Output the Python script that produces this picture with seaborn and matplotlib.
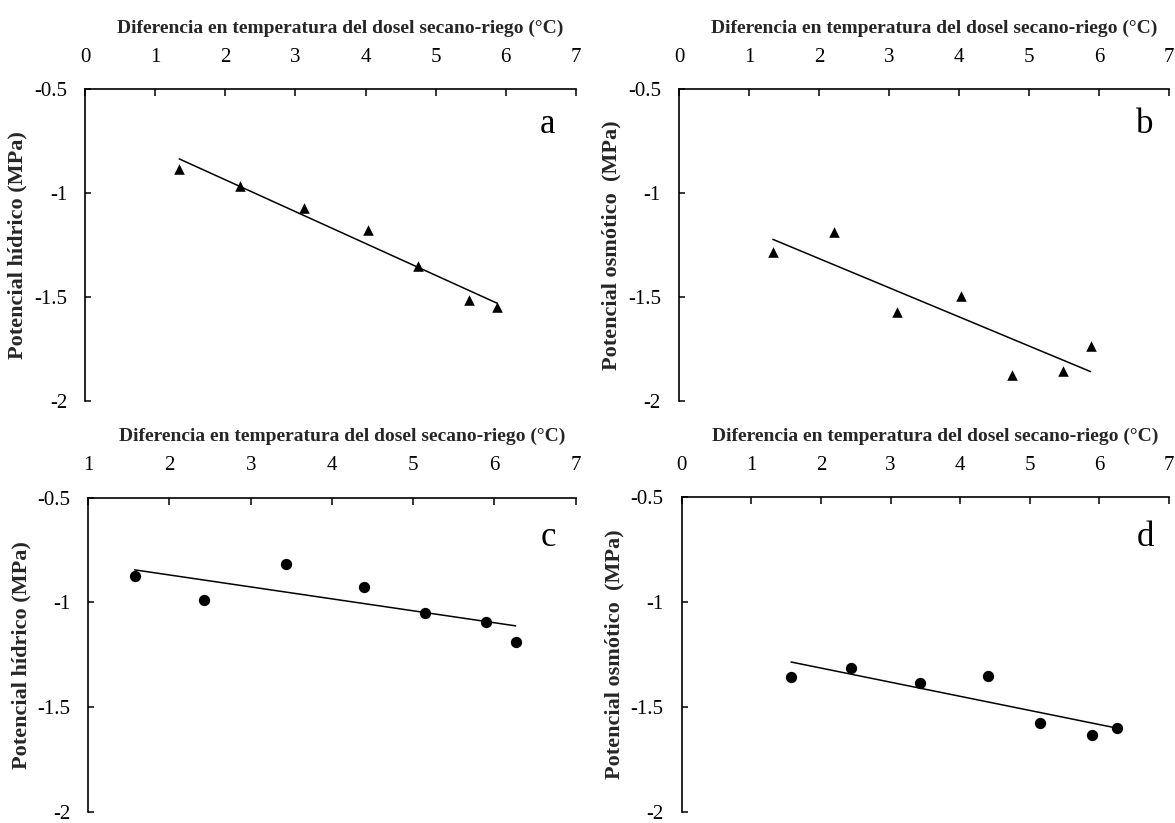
import matplotlib
matplotlib.use("Agg")
import matplotlib.pyplot as plt
import seaborn as sns
import pandas as pd

# ---- data ----
a_x = [1.34, 2.21, 3.12, 4.03, 4.75, 5.48, 5.88]
a_y = [-0.885, -0.965, -1.07, -1.175, -1.35, -1.515, -1.547]
b_x = [1.34, 2.21, 3.12, 4.03, 4.75, 5.48, 5.88]
b_y = [-1.283, -1.184, -1.573, -1.493, -1.872, -1.853, -1.733]
c_x = [1.57, 2.42, 3.43, 4.40, 5.145, 5.89, 6.26]
c_y = [-0.875, -0.99, -0.819, -0.929, -1.051, -1.092, -1.191]
d_x = [1.57, 2.43, 3.42, 4.405, 5.145, 5.89, 6.26]
d_y = [-1.359, -1.313, -1.386, -1.351, -1.577, -1.634, -1.602]

x_label = "Diferencia en temperatura del dosel secano-riego (°C)"
y_labels = ["Potencial hídrico (MPa)", "Potencial osmótico  (MPa)",
            "Potencial hídrico (MPa)", "Potencial osmótico  (MPa)"]
letters = ["a", "b", "c", "d"]
y_ticks = [-0.5, -1, -1.5, -2]
y_ticklabels = ["-0.5", "-1", "-1.5", "-2"]
x_ranges = [(0, 7), (0, 7), (1, 7), (0, 7)]

sns.set_theme(style="white")
plt.rcParams["font.family"] = ["Liberation Serif", "DejaVu Serif"]
plt.rcParams["axes.unicode_minus"] = False

fig = plt.figure(figsize=(11.75, 8.23), dpi=100)
rects = [
    (0.0726, 0.5124, 0.4174, 0.3791),
    (0.5779, 0.5124, 0.4170, 0.3791),
    (0.0751, 0.0137, 0.4149, 0.3816),
    (0.5802, 0.0137, 0.4147, 0.3821),
]
datasets = [(a_x, a_y, "^"), (b_x, b_y, "^"), (c_x, c_y, "o"), (d_x, d_y, "o")]
letter_pos = [(0.943, 0.886), (0.951, 0.886), (0.943, 0.872), (0.951, 0.872)]

for i, (rect, (xs, ys, mk)) in enumerate(zip(rects, datasets)):
    ax = fig.add_axes(rect)
    df = pd.DataFrame({"x": xs, "y": ys})
    msize = 58 if mk == "^" else 66
    sns.regplot(data=df, x="x", y="y", ax=ax, ci=None, marker=mk,
                scatter_kws=dict(s=msize, color="black", linewidths=0, alpha=1),
                line_kws=dict(color="black", linewidth=1.1))
    x0, x1 = x_ranges[i]
    ax.set_xlim(x0, x1)
    ax.set_ylim(-2, -0.5)
    ax.set_xticks(range(x0, x1 + 1))
    ax.set_xticklabels([str(v) for v in range(x0, x1 + 1)])
    ax.set_yticks(y_ticks)
    ax.set_yticklabels(y_ticklabels)
    ax.xaxis.tick_top()
    ax.xaxis.set_label_position("top")
    for s in ["right", "bottom"]:
        ax.spines[s].set_visible(False)
    for s in ["top", "left"]:
        ax.spines[s].set_color("black")
        ax.spines[s].set_linewidth(1.2)
    ax.tick_params(axis="x", direction="in", length=5, width=1.1,
                   pad=16, labelsize=15, colors="black", top=True, bottom=False)
    ax.tick_params(axis="y", direction="in", length=4, width=1.1,
                   pad=13, labelsize=15, colors="black", left=True)
    ax.set_xlabel(x_label, fontsize=14, fontweight="bold")
    ax.xaxis.set_label_coords(0.52, 1.18)
    ax.set_ylabel(y_labels[i], fontsize=16, fontweight="bold")
    ax.yaxis.set_label_coords(-0.117, 0.5)
    ax.text(letter_pos[i][0], letter_pos[i][1], letters[i], transform=ax.transAxes,
            fontsize=25, ha="center", va="center", color="black")
    ax.set_facecolor("white")
    ax.grid(False)

fig.savefig("out.png", dpi=100, facecolor="white")
